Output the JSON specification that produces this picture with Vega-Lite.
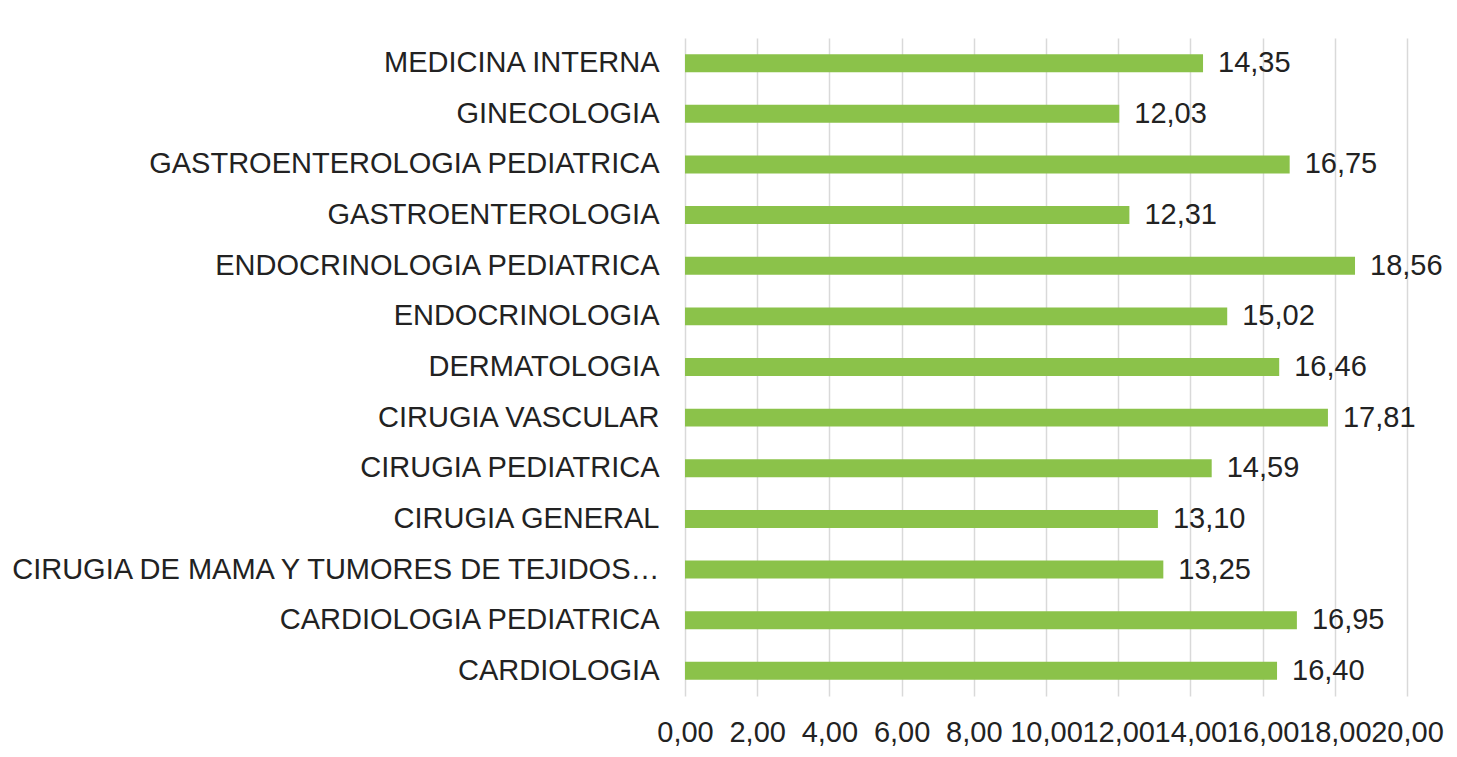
{
  "$schema": "https://vega.github.io/schema/vega-lite/v6.json",
  "width": 722,
  "height": 658,
  "padding": {"left": 6, "top": 38, "right": 10, "bottom": 10},
  "background": "white",
  "config": {
    "locale": {"number": {"decimal": ",", "thousands": ".", "grouping": [3], "currency": ["", " €"]}},
    "view": {"stroke": null},
    "font": "Liberation Sans"
  },
  "data": {
    "values": [
      {"especialidad": "MEDICINA INTERNA", "valor": 14.35},
      {"especialidad": "GINECOLOGIA", "valor": 12.03},
      {"especialidad": "GASTROENTEROLOGIA PEDIATRICA", "valor": 16.75},
      {"especialidad": "GASTROENTEROLOGIA", "valor": 12.31},
      {"especialidad": "ENDOCRINOLOGIA PEDIATRICA", "valor": 18.56},
      {"especialidad": "ENDOCRINOLOGIA", "valor": 15.02},
      {"especialidad": "DERMATOLOGIA", "valor": 16.46},
      {"especialidad": "CIRUGIA VASCULAR", "valor": 17.81},
      {"especialidad": "CIRUGIA PEDIATRICA", "valor": 14.59},
      {"especialidad": "CIRUGIA GENERAL", "valor": 13.10},
      {"especialidad": "CIRUGIA DE MAMA Y TUMORES DE TEJIDOS BLANDOS", "valor": 13.25},
      {"especialidad": "CARDIOLOGIA PEDIATRICA", "valor": 16.95},
      {"especialidad": "CARDIOLOGIA", "valor": 16.40}
    ]
  },
  "encoding": {
    "y": {
      "field": "especialidad",
      "type": "nominal",
      "sort": null,
      "scale": {"paddingInner": 0.645, "paddingOuter": 0.32},
      "axis": {
        "title": null,
        "domain": false,
        "ticks": false,
        "labelFontSize": 29,
        "labelColor": "#222222",
        "labelPadding": 26,
        "labelLimit": 656,
        "labelFont": "Liberation Sans"
      }
    },
    "x": {
      "field": "valor",
      "type": "quantitative",
      "scale": {"domain": [0, 20], "nice": false},
      "axis": {
        "title": null,
        "values": [0, 2, 4, 6, 8, 10, 12, 14, 16, 18, 20],
        "format": ".2f",
        "domain": false,
        "ticks": false,
        "grid": true,
        "gridColor": "#d9d9d9",
        "gridWidth": 1.5,
        "labelFontSize": 29,
        "labelColor": "#222222",
        "labelPadding": 22,
        "labelFont": "Liberation Sans",
        "labelOverlap": false,
        "labelFlush": false
      }
    }
  },
  "layer": [
    {"mark": {"type": "bar", "color": "#8BC24A"}},
    {
      "mark": {"type": "text", "align": "left", "baseline": "middle", "dx": 15, "fontSize": 29, "color": "#222222", "font": "Liberation Sans"},
      "encoding": {"text": {"field": "valor", "type": "quantitative", "format": ".2f"}}
    }
  ]
}
